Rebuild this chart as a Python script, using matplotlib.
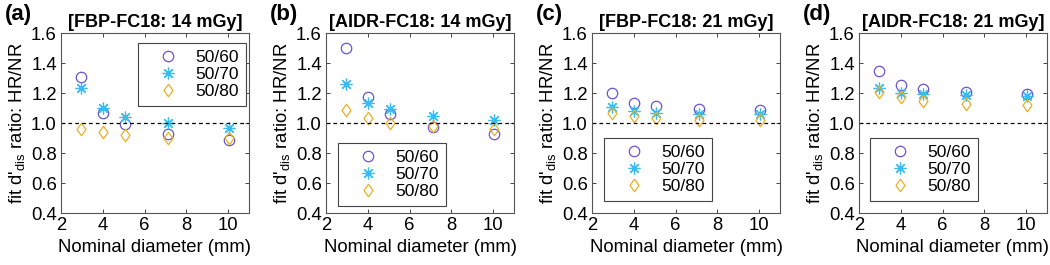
import matplotlib
matplotlib.use("Agg")
import matplotlib.pyplot as plt
from matplotlib.lines import Line2D

plt.rcParams['font.family'] = ['Liberation Sans', 'DejaVu Sans']
plt.rcParams['mathtext.fontset'] = 'custom'
plt.rcParams['mathtext.rm'] = 'Liberation Sans'
plt.rcParams['mathtext.it'] = 'Liberation Sans'

# nominal diameters (mm), slightly jittered as in the figure
diam = [2.95, 4.0, 5.05, 7.1, 10.05]

titles = ["[FBP-FC18: 14 mGy]", "[AIDR-FC18: 14 mGy]",
          "[FBP-FC18: 21 mGy]", "[AIDR-FC18: 21 mGy]"]
panel_tags = ["(a)", "(b)", "(c)", "(d)"]
series_names = ["50/60", "50/70", "50/80"]

# ratio HR/NR for each panel
a_5060 = [1.31, 1.07, 0.995, 0.927, 0.89]
a_5070 = [1.235, 1.10, 1.044, 1.0, 0.971]
a_5080 = [0.963, 0.941, 0.923, 0.90, 0.90]

b_5060 = [1.50, 1.176, 1.064, 0.974, 0.927]
b_5070 = [1.259, 1.136, 1.095, 1.048, 1.022]
b_5080 = [1.088, 1.035, 1.002, 0.982, 0.963]

c_5060 = [1.20, 1.132, 1.114, 1.095, 1.088]
c_5070 = [1.11, 1.081, 1.068, 1.062, 1.059]
c_5080 = [1.07, 1.05, 1.033, 1.022, 1.018]

d_5060 = [1.345, 1.257, 1.229, 1.209, 1.191]
d_5070 = [1.231, 1.202, 1.193, 1.187, 1.182]
d_5080 = [1.209, 1.171, 1.147, 1.13, 1.119]

panels = [(a_5060, a_5070, a_5080), (b_5060, b_5070, b_5080),
          (c_5060, c_5070, c_5080), (d_5060, d_5070, d_5080)]

colors = ['#6A55D0', '#3BBCF0', '#E8B024']
diamond = [(0, 1), (0.72, 0), (0, -1), (-0.72, 0), (0, 1)]
markers = ['o', (8, 2, 0), diamond]
msizes = [7.5, 8.5, 9]

# axes placement in pixels (left, right)
lefts = [61, 326, 592, 859]
W, H = 1050, 265
top, bottom = 33, 213.3
leg_loc = ['upper right', 'lower left', 'lower left', 'lower left']
leg_anchor = [(0.984, 0.945), (0.064, 0.043), (0.064, 0.068), (0.0585, 0.068)]

fs = 13.3
fig = plt.figure(figsize=(10.5, 2.65), dpi=100)
axc = '#262626'

for i in range(4):
    ax = fig.add_axes([lefts[i] / W, (H - bottom) / H, 188 / W, (bottom - top) / H])
    for j in range(3):
        ax.plot(diam, panels[i][j], linestyle='none', marker=markers[j],
                markersize=msizes[j], markerfacecolor='none',
                markeredgecolor=colors[j], markeredgewidth=0.9)
    ax.axhline(1.0, color='black', linestyle=(0, (3, 2.5)), linewidth=0.9)
    ax.set_xlim(2, 11)
    ax.set_ylim(0.4, 1.6)
    ax.set_xticks([2, 4, 6, 8, 10])
    ax.set_yticks([0.4, 0.6, 0.8, 1.0, 1.2, 1.4, 1.6])
    ax.set_yticklabels(['0.4', '0.6', '0.8', '1.0', '1.2', '1.4', '1.6'])
    ax.tick_params(direction='in', top=True, right=True, length=3, width=0.6,
                   labelsize=fs, colors=axc, labelcolor='black', pad=3)
    for s in ax.spines.values():
        s.set_color('#555555')
        s.set_linewidth(0.8)
    ax.set_xlabel("Nominal diameter (mm)", fontsize=fs, labelpad=3)
    ax.set_ylabel("fit d'$_{\\mathrm{dis}}$ ratio: HR/NR", fontsize=fs, labelpad=3)
    ax.set_title(titles[i], fontsize=13, fontweight='bold', pad=4)
    ax.text(-0.3, 1.16, panel_tags[i], transform=ax.transAxes, fontsize=16,
            fontweight='bold', ha='left', va='top')

    handles = [Line2D([], [], linestyle='none', marker=markers[j], markersize=msizes[j],
                      markerfacecolor='none', markeredgecolor=colors[j],
                      markeredgewidth=0.9) for j in range(3)]
    leg = ax.legend(handles, series_names, loc=leg_loc[i], bbox_to_anchor=leg_anchor[i],
                    borderaxespad=0, fontsize=12.5, handletextpad=0.25, handlelength=2.65,
                    labelspacing=0.1, borderpad=0.4, fancybox=False, framealpha=1,
                    edgecolor='#444444')
    leg.get_frame().set_linewidth(0.8)

fig.savefig("out.png", dpi=100)
